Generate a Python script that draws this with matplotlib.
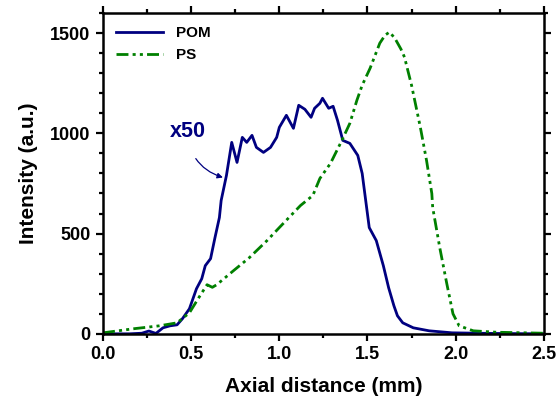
import matplotlib
matplotlib.use("Agg")
import matplotlib.pyplot as plt
from matplotlib.ticker import MultipleLocator

plt.rcParams['font.family'] = ['Liberation Sans', 'DejaVu Sans']
plt.rcParams['font.weight'] = 'bold'

# POM profile (x50)
pom_x = [0.0, 0.15, 0.22, 0.26, 0.30, 0.34, 0.38, 0.42, 0.45, 0.49, 0.53, 0.56, 0.58,
         0.61, 0.635, 0.66, 0.67, 0.70, 0.73, 0.76, 0.79, 0.815, 0.845, 0.87, 0.91,
         0.95, 0.985, 1.0, 1.04, 1.08, 1.11, 1.145, 1.18, 1.20, 1.23, 1.245, 1.28,
         1.305, 1.33, 1.36, 1.40, 1.445, 1.47, 1.49, 1.51, 1.55, 1.59, 1.62, 1.65,
         1.67, 1.70, 1.76, 1.85, 1.98, 2.2, 2.5]
pom_y = [0, 0, 3, 14, 2, 30, 40, 45, 75, 125, 225, 275, 340,
         375, 480, 580, 665, 790, 955, 855, 980, 955, 990, 930, 905,
         930, 980, 1030, 1090, 1025, 1140, 1120, 1080, 1125, 1150, 1175, 1125,
         1135, 1065, 965, 950, 890, 800, 665, 530, 465, 340, 230, 140,
         90, 55, 30, 15, 5, 2, 0]

# PS profile
ps_x = [0.0, 0.17, 0.32, 0.42, 0.49, 0.55, 0.59, 0.62, 0.645, 0.74, 0.83, 0.93, 1.0,
        1.12, 1.155, 1.19, 1.23, 1.29, 1.355, 1.40, 1.44, 1.47, 1.515, 1.57,
        1.60, 1.625, 1.655, 1.69, 1.71, 1.75, 1.80, 1.835, 1.865, 1.87, 1.91,
        1.95, 1.985, 2.02, 2.10, 2.23, 2.5]
ps_y = [5, 25, 40, 55, 105, 190, 245, 232, 245, 315, 380, 465, 530,
        640, 665, 690, 775, 850, 965, 1050, 1165, 1240, 1325, 1450,
        1490, 1505, 1475, 1420, 1380, 1240, 1030, 865, 700, 630, 430,
        250, 100, 40, 15, 8, 3]

fig = plt.figure(figsize=(5.6, 3.96), dpi=100)
ax = fig.add_axes([0.184, 0.157, 0.787, 0.81])

ax.plot(pom_x, pom_y, color='#000080', lw=2.0, label='POM')
ax.plot(ps_x, ps_y, color='#008000', lw=2.0,
        ls=(0, (4.3, 1.5, 1.1, 1.5, 1.1, 1.5)), label='PS')

ax.set_xlim(0, 2.5)
ax.set_ylim(0, 1600)
ax.xaxis.set_major_locator(MultipleLocator(0.5))
ax.xaxis.set_minor_locator(MultipleLocator(0.25))
ax.yaxis.set_major_locator(MultipleLocator(500))
ax.yaxis.set_minor_locator(MultipleLocator(100))
ax.tick_params(which='both', direction='out', top=True, right=True, width=1.6)
ax.tick_params(which='major', length=5, labelsize=13, pad=4)
ax.tick_params(which='minor', length=3)
ax.tick_params(labeltop=False, labelright=False)
for lab in ax.get_xticklabels() + ax.get_yticklabels():
    lab.set_fontweight('bold')
for sp in ax.spines.values():
    sp.set_linewidth(1.8)

ax.set_xlabel('Axial distance (mm)', fontsize=15, fontweight='bold', labelpad=10)
ax.set_ylabel('Intensity (a.u.)', fontsize=15, fontweight='bold', labelpad=9)

ax.annotate('x50', xy=(0.68, 780), xytext=(0.48, 1010), color='#000080',
            fontsize=15.5, fontweight='bold', ha='center', va='center',
            arrowprops=dict(arrowstyle='-|>', color='#000080', lw=0.9,
                            shrinkA=11, shrinkB=0, mutation_scale=8,
                            connectionstyle='arc3,rad=0.35'))

leg = ax.legend(loc='upper left', frameon=False, fontsize=11, handlelength=3.1,
                handletextpad=0.8, labelspacing=0.55, borderaxespad=0.45)
for t in leg.get_texts():
    t.set_fontweight('bold')

fig.savefig('out.png', dpi=100)
